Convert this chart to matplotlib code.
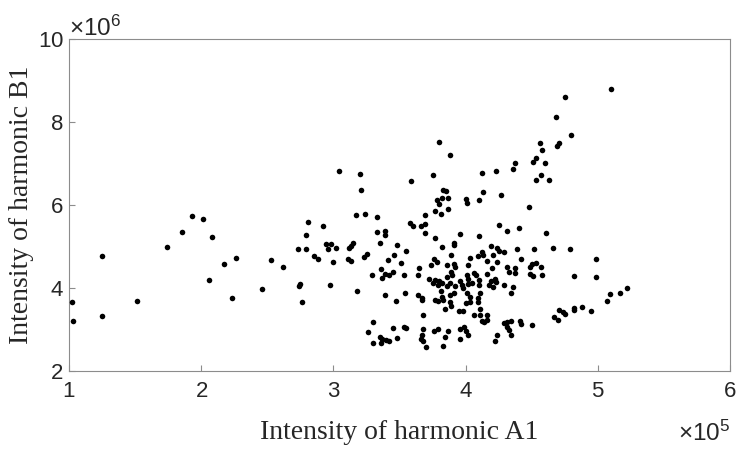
import numpy as np
import matplotlib
matplotlib.use("Agg")
import matplotlib.pyplot as plt
from matplotlib.ticker import ScalarFormatter

plt.rcParams['mathtext.default'] = 'regular'

# intensity of harmonic A1 (units of 1e5) and B1 (units of 1e6)
x_a1 = [1.93, 2.01, 1.85, 2.08, 1.74, 1.25, 2.26, 2.17, 2.06, 1.02, 1.51, 2.23, 1.25, 1.03,
        2.46, 2.53, 2.62, 2.73, 2.79, 2.75, 2.74, 2.76, 2.85, 2.88, 2.94, 2.98, 2.96, 3.02,
        3.00, 2.97, 3.15, 3.13, 3.12, 3.11, 3.13, 3.23, 3.25, 3.18, 3.35, 3.48, 3.46, 3.41,
        3.51, 3.36, 3.29, 3.39, 3.37, 3.42, 3.45, 3.39, 3.47, 3.30, 3.26, 3.45, 3.35, 3.37,
        3.40, 3.42, 3.30, 3.36, 3.48,
        3.04, 3.20, 3.21, 3.17, 3.24, 3.33, 2.81, 2.92, 2.79, 3.33, 3.39, 3.39,
        3.80, 3.88, 3.59, 3.75, 4.12, 3.83, 3.85, 3.78, 3.82, 3.87, 3.80, 4.00, 4.01, 4.10,
        3.77, 3.81, 3.87, 3.69, 3.58, 3.60, 3.66, 3.69, 3.69, 3.77, 3.96, 4.10,
        3.82, 3.91, 3.91, 3.55, 3.89, 3.76, 3.78, 3.74, 4.03, 4.09, 3.86, 3.91, 3.92, 4.02,
        3.65, 3.64, 3.53, 3.89, 3.90, 4.01, 4.06, 4.08, 3.72, 3.77, 3.80, 3.82, 3.86, 3.88,
        3.86, 3.96, 3.97, 4.02, 4.02, 4.05, 3.79, 3.75, 3.92, 3.98, 4.10, 3.54, 3.64, 3.67,
        3.67, 3.81, 3.88, 3.91, 4.01, 4.03, 3.77, 3.79, 3.82, 3.83, 3.88, 3.89, 4.00, 4.03,
        4.09, 4.09, 3.84, 3.95, 3.98, 4.11, 3.68, 4.06, 3.53, 3.55, 3.68, 3.76, 3.79, 3.87,
        3.96, 3.99, 4.00, 3.67, 3.66, 3.68, 3.84, 3.96, 4.02, 3.83, 3.70,
        4.68, 4.56, 4.71, 4.69, 4.58, 4.37, 4.36, 4.53, 4.51, 4.60, 4.23, 4.57, 4.53, 4.63,
        4.13, 4.27, 4.48, 4.25, 4.31, 4.40, 4.61, 5.10, 4.75, 4.80,
        4.19, 4.24, 4.25, 4.21, 4.12, 4.13, 4.29, 4.39, 4.52, 4.66, 4.16, 4.24, 4.42, 4.50,
        4.53, 4.49, 4.57, 4.20, 4.31, 4.33, 4.37, 4.37, 4.49, 4.51, 4.58, 4.16, 4.10, 4.19,
        4.22, 4.23, 4.18, 4.21, 4.29, 4.36, 4.34, 4.11, 4.11, 4.16, 4.16, 4.14, 4.12, 4.29,
        4.31, 4.34, 4.31, 4.33, 4.34, 4.41, 4.42, 4.50, 4.24, 4.22, 4.67, 4.71, 4.70,
        4.79, 4.99, 4.82, 4.99, 5.09, 5.07, 5.17, 5.22, 4.74, 4.75, 4.82, 4.82, 4.88, 4.95]

y_b1 = [5.74, 5.66, 5.35, 5.23, 4.98, 4.76, 4.72, 4.58, 4.19, 3.67, 3.69, 3.76, 3.33, 3.20,
        3.98, 4.67, 4.51, 4.93, 4.95, 4.10, 4.05, 3.67, 4.78, 4.69, 5.06, 5.06, 4.94, 4.97,
        4.63, 4.08, 5.08, 5.02, 4.96, 4.71, 4.65, 4.75, 4.81, 3.93, 5.08, 5.04, 4.79, 4.67,
        4.61, 4.45, 4.31, 4.34, 4.25, 4.31, 4.38, 3.83, 3.68, 3.18, 2.93, 3.03, 2.82, 2.77,
        2.74, 2.72, 2.67, 2.67, 2.80,
        6.81, 6.75, 6.36, 5.75, 5.78, 5.71, 5.60, 5.50, 5.28, 5.35, 5.38, 5.28,
        7.52, 7.21, 6.57, 6.72, 6.78, 6.37, 6.33, 6.12, 6.18, 6.16, 6.02, 6.14, 6.04, 6.11,
        5.86, 5.78, 5.91, 5.76, 5.56, 5.49, 5.49, 5.55, 5.32, 5.20, 5.29, 5.26,
        4.98, 5.08, 5.03, 4.90, 4.79, 4.69, 4.63, 4.55, 4.72, 4.76, 4.55, 4.58, 4.51, 4.55,
        4.47, 4.32, 4.31, 4.39, 4.31, 4.32, 4.35, 4.31, 4.21, 4.19, 4.16, 4.11, 4.26, 4.11,
        4.05, 4.18, 4.08, 4.21, 4.10, 4.11, 4.07, 4.13, 4.05, 4.00, 4.07, 3.87, 3.84, 3.76,
        3.71, 3.92, 3.82, 3.87, 3.87, 3.79, 3.71, 3.68, 3.78, 3.71, 3.66, 3.57, 3.63, 3.66,
        3.76, 3.66, 3.50, 3.44, 3.44, 3.50, 3.34, 3.34, 3.07, 3.04, 3.02, 2.97, 3.00, 2.96,
        3.02, 3.07, 2.96, 2.86, 2.76, 2.72, 2.81, 2.78, 2.86, 2.60, 2.57,
        8.12, 7.49, 7.50, 7.41, 7.32, 7.02, 6.87, 7.13, 7.04, 7.01, 6.83, 6.72, 6.60, 6.60,
        6.31, 6.23, 5.96, 5.52, 5.38, 5.45, 5.32, 8.80, 8.60, 7.69,
        5.00, 4.96, 4.90, 4.80, 4.87, 4.79, 4.87, 4.93, 4.95, 4.96, 4.66, 4.63, 4.69, 4.58,
        4.60, 4.51, 4.51, 4.47, 4.50, 4.39, 4.35, 4.47, 4.34, 4.29, 4.32, 4.34, 4.19, 4.16,
        4.22, 4.14, 4.07, 4.03, 4.07, 4.03, 3.87, 3.87, 3.34, 3.34, 3.23, 3.18, 3.20, 3.16,
        3.18, 3.20, 3.07, 2.99, 2.87, 3.20, 3.12, 3.10, 2.87, 2.72, 3.31, 3.48, 3.22,
        4.94, 4.70, 4.30, 4.26, 3.86, 3.68, 3.89, 4.00, 3.42, 3.37, 3.52, 3.47, 3.53, 3.45]

x_ticks = [1, 2, 3, 4, 5, 6]
y_ticks = [2, 4, 6, 8, 10]

text_col = '#262626'
spine_col = '#8c8c8c'

x = np.array(x_a1) * 1e5
y = np.array(y_b1) * 1e6

fig = plt.figure(figsize=(7.39, 4.5), dpi=100)
ax = fig.add_axes([0.0936, 0.1756, 0.8942, 0.7378])

ax.scatter(x, y, s=16, c='black', linewidths=0, zorder=3)

ax.set_xlim(1e5, 6e5)
ax.set_ylim(2e6, 1e7)
ax.set_xticks(np.array(x_ticks) * 1e5)
ax.set_yticks(np.array(y_ticks) * 1e6)

ax.tick_params(direction='in', length=4.5, width=0.8, color=spine_col,
               labelsize=16, labelcolor=text_col)
ax.tick_params(axis='x', pad=7)
ax.tick_params(axis='y', pad=4)
for lab in ax.get_xticklabels() + ax.get_yticklabels():
    lab.set_fontfamily('Liberation Sans')

for axis, p in ((ax.xaxis, 5), (ax.yaxis, 6)):
    fmt = ScalarFormatter(useMathText=True)
    fmt.set_powerlimits((p, p))
    axis.set_major_formatter(fmt)
    axis.offsetText.set_fontfamily('Liberation Sans')
    axis.offsetText.set_fontsize(17.5)
    axis.offsetText.set_color(text_col)
ax.xaxis.OFFSETTEXTPAD = 14
ax.yaxis.OFFSETTEXTPAD = 2

for s in ax.spines.values():
    s.set_color(spine_col)
    s.set_linewidth(0.8)

ax.set_xlabel('Intensity of harmonic A1', fontfamily='Liberation Serif',
              fontsize=20, color=text_col, labelpad=13)
ax.set_ylabel('Intensity of harmonic B1', fontfamily='Liberation Serif',
              fontsize=20, color=text_col, labelpad=3)

fig.savefig('out.png', dpi=100)
plt.close(fig)
